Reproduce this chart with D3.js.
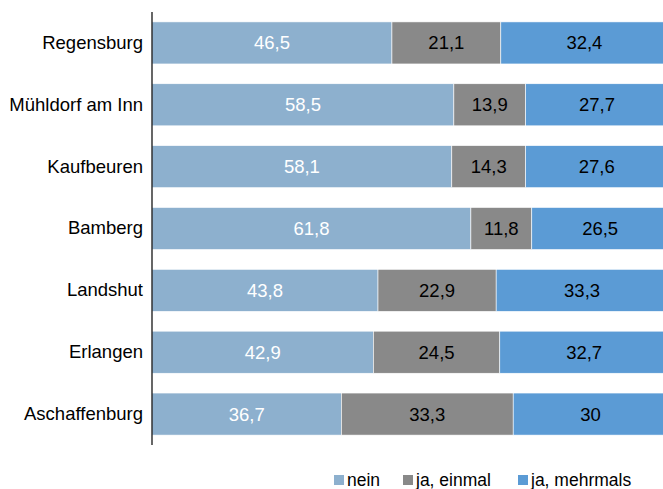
<!DOCTYPE html>
<html>
<head>
<meta charset="UTF-8">
<title>Chart</title>
<script src="https://cdn.jsdelivr.net/npm/d3@7"></script>
<style>
body { margin: 0; background: #fff; }
text { font-family: "Liberation Sans", Arial, sans-serif; }
</style>
</head>
<body>
<script>
// data
var cities = ["Regensburg", "Mühldorf am Inn", "Kaufbeuren", "Bamberg", "Landshut", "Erlangen", "Aschaffenburg"];
var seriesNames = ["nein", "ja, einmal", "ja, mehrmals"];
var nein = [46.5, 58.5, 58.1, 61.8, 43.8, 42.9, 36.7];
var einmal = [21.1, 13.9, 14.3, 11.8, 22.9, 24.5, 33.3];
var mehrmals = [32.4, 27.7, 27.6, 26.5, 33.3, 32.7, 30];

var colors = ["#8db0ce", "#898989", "#5b9bd5"];
var labelColors = ["#ffffff", "#000000", "#000000"];

var width = 663, height = 489;
var x0 = 152, x1 = 668, yTop = 12, yBottom = 445;
var fontSize = 18.5;

var svg = d3.select("body").append("svg")
	.attr("width", width)
	.attr("height", height);

var rows = cities.map(function(c, i) {
	return { city: c, nein: nein[i], einmal: einmal[i], mehrmals: mehrmals[i] };
});
var keys = ["nein", "einmal", "mehrmals"];
var stack = d3.stack().keys(keys)(rows);

var xScale = d3.scaleLinear().domain([0, 100]).range([x0, x1]);
var yScale = d3.scaleBand().domain(cities).range([yTop, yBottom]).paddingInner(0.32).paddingOuter(0.16);

// bars
var layer = svg.selectAll("g.layer")
	.data(stack)
	.enter().append("g")
	.attr("class", "layer")
	.attr("fill", function(d, i) { return colors[i]; });

layer.selectAll("rect")
	.data(function(d) { return d; })
	.enter().append("rect")
	.attr("x", function(d) { return xScale(d[0]); })
	.attr("y", function(d) { return yScale(d.data.city); })
	.attr("width", function(d) { return xScale(d[1]) - xScale(d[0]); })
	.attr("height", yScale.bandwidth())
	.attr("stroke", "#ffffff")
	.attr("stroke-width", 0.6);

// value labels
layer.each(function(s, i) {
	d3.select(this).selectAll("text")
		.data(s)
		.enter().append("text")
		.attr("x", function(d) { return (xScale(d[0]) + xScale(d[1])) / 2; })
		.attr("y", function(d) { return yScale(d.data.city) + yScale.bandwidth() / 2; })
		.attr("dy", "0.35em")
		.attr("text-anchor", "middle")
		.attr("font-size", fontSize)
		.attr("fill", labelColors[i])
		.text(function(d) { return String(d.data[s.key]).replace(".", ","); });
});

// y axis
var yAxis = svg.append("g")
	.attr("transform", "translate(" + x0 + ",0)")
	.call(d3.axisLeft(yScale).tickSize(0).tickPadding(9));
yAxis.select(".domain").attr("d", "M0," + yTop + "V" + yBottom).attr("stroke", "#000").attr("stroke-width", 1.2);
yAxis.selectAll("text")
	.attr("font-size", fontSize)
	.attr("font-family", "Liberation Sans, Arial, sans-serif")
	.attr("fill", "#000");

// legend
var legendX = [334, 403, 518];
var legend = svg.selectAll("g.legend")
	.data(seriesNames)
	.enter().append("g")
	.attr("class", "legend")
	.attr("transform", function(d, i) { return "translate(" + legendX[i] + ",475)"; });
legend.append("rect")
	.attr("width", 10).attr("height", 10)
	.attr("fill", function(d, i) { return colors[i]; });
legend.append("text")
	.attr("x", 13).attr("y", 11)
	.attr("font-size", 17.5)
	.text(function(d) { return d; });
</script>
</body>
</html>
